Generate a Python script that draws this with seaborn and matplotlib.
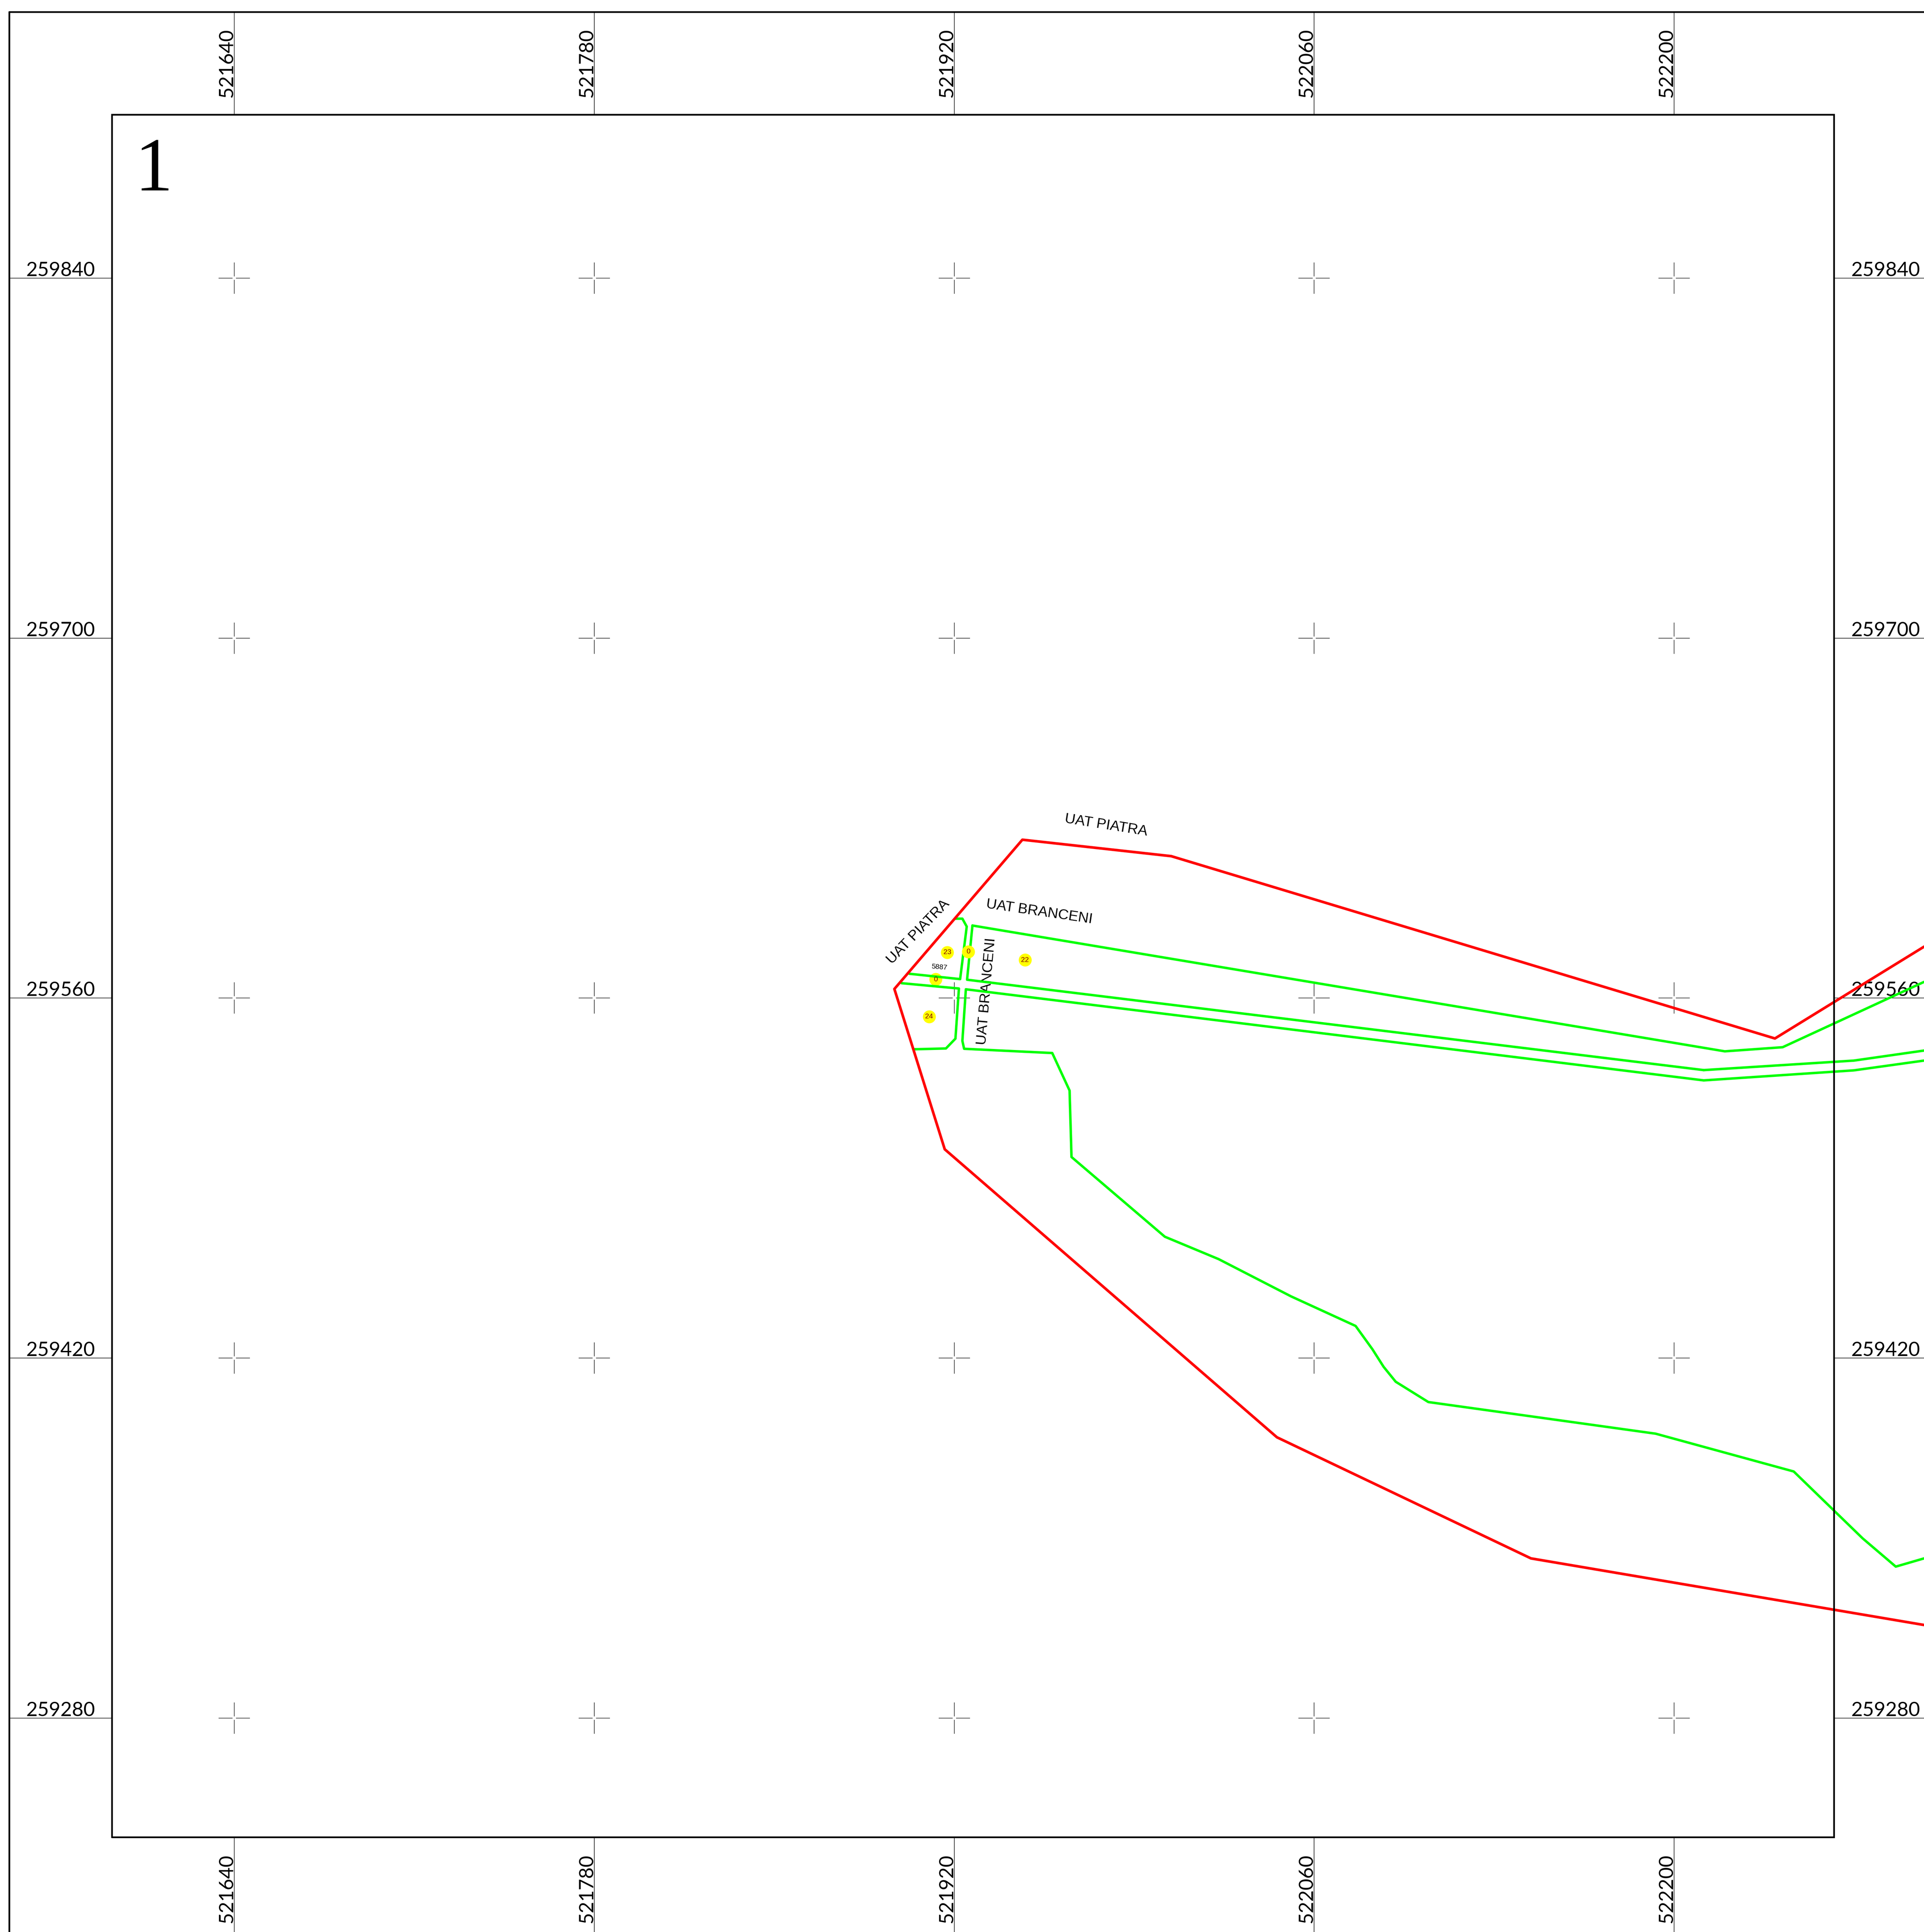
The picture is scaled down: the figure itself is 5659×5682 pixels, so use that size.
import matplotlib
matplotlib.use("Agg")
import matplotlib.pyplot as plt
import seaborn as sns

# grid coordinates
grid_x = [521640, 521780, 521920, 522060, 522200]
grid_y = [259840, 259700, 259560, 259420, 259280]

# frames
outer_left, outer_top = 521552.4, 259943.5
inner_left, inner_right = 521592.3, 522262.2
inner_bottom, inner_top = 259233.7, 259903.6
view_x = (521548.84, 522297.18)
view_y = (259196.8, 259948.17)

# red boundary
red_x = [522297.2, 522239.2, 522004.4, 521946.5, 521896.71, 521916.3, 522045.5, 522144.3, 522297.2]
red_y = [259580.0, 259544.3, 259615.2, 259621.6, 259563.55, 259501.2, 259389.2, 259342.1, 259316.2]

# green parcels
g1_x = [521920.46, 521923.16, 521924.85, 521922.28, 521902.58]
g1_y = [259590.89, 259590.89, 259587.82, 259567.39, 259569.46]
g2_x = [521899.54, 521921.81, 521920.46, 521916.75, 521904.6]
g2_y = [259565.80, 259563.73, 259544.24, 259540.41, 259540.11]
g3_x = [521927.07, 522219.7, 522242.2, 522297.2]
g3_y = [259588.23, 259539.3, 259540.9, 259566.3]
g4_x = [521927.07, 521924.98, 522211.5, 522269.9, 522297.2]
g4_y = [259588.23, 259567.15, 259532.0, 259535.7, 259539.6]
g5_x = [522297.2, 522269.9, 522211.5, 521924.51, 521923.16, 521923.83, 521958.11, 521964.85,
        521965.6, 522001.9, 522022.8, 522051.0, 522076.1, 522082.6, 522087.0, 522091.7,
        522104.4, 522192.8, 522246.5, 522273.3, 522286.2, 522297.2]
g5_y = [259535.7, 259531.9, 259528.0, 259563.43, 259543.36, 259540.29, 259538.64, 259524.05,
        259498.2, 259467.2, 259458.5, 259444.0, 259432.5, 259423.5, 259416.6, 259410.8,
        259402.9, 259390.6, 259375.9, 259349.9, 259338.9, 259342.1]

# yellow parcel markers
dot_x = [521917.3, 521925.5, 521947.5, 521910.2]
dot_y = [259577.8, 259578.1, 259574.8, 259552.8]
dot_t = ["23", "0", "22", "24"]
under_dot_x = [521912.8]
under_dot_y = [259567.3]
under_dot_t = ["0"]

# map labels
label_text = ["UAT PIATRA", "UAT PIATRA", "UAT BRANCENI", "UAT BRANCENI", "5887"]
label_x = [521979.0, 521905.9, 521953.1, 521932.6, 521914.2]
label_y = [259627.2, 259585.7, 259593.5, 259562.6, 259572.0]
label_rot = [-9, 46, -8.3, 85, -5]
label_size = [31, 31, 31, 31, 15]

sns.set_theme(style="white", rc={"axes.facecolor": "white", "figure.facecolor": "white"})
plt.rcParams["font.family"] = ["Liberation Sans", "DejaVu Sans"]

fig = plt.figure(figsize=(56.59, 56.82), dpi=100)
ax = fig.add_axes([0, 0, 1, 1])
ax.set_axis_off()

BLACK = "#000000"
FRAME_LW = 3.6
TICK_LW = 1.3
TICK_COL = "#222222"
CROSS_COL = "#222222"
ARM, GAP = 6.08, 0.65
TICK_FONT = dict(family="Lato", weight="normal", fontsize=42, color="black")

# outer and inner frame
ax.plot([outer_left, outer_left], [view_y[0], outer_top], color=BLACK, lw=FRAME_LW, zorder=5)
ax.plot([outer_left, view_x[1]], [outer_top, outer_top], color=BLACK, lw=FRAME_LW, zorder=5)
ax.plot([inner_left, inner_right, inner_right, inner_left, inner_left],
        [inner_bottom, inner_bottom, inner_top, inner_top, inner_bottom],
        color=BLACK, lw=FRAME_LW, zorder=5, solid_joinstyle="miter")

# tick lines and labels
ax.vlines(grid_x, inner_top, outer_top, color=TICK_COL, lw=TICK_LW, zorder=1)
ax.vlines(grid_x, view_y[0], inner_bottom, color=TICK_COL, lw=TICK_LW, zorder=1)
ax.hlines(grid_y, outer_left, inner_left, color=TICK_COL, lw=TICK_LW, zorder=1)
ax.hlines(grid_y, inner_right, view_x[1], color=TICK_COL, lw=TICK_LW, zorder=1)
for gx in grid_x:
    for yc in (259923.6, 259213.7):
        ax.text(gx - 0.7, yc, str(gx), rotation=90, rotation_mode="anchor",
                ha="center", va="baseline", **TICK_FONT)
for gy in grid_y:
    for xc in (521572.4, 522282.2):
        ax.text(xc, gy + 0.8, str(gy), ha="center", va="baseline", **TICK_FONT)

# grid crosses
for gx in grid_x:
    for gy in grid_y:
        ax.hlines(gy, gx - ARM, gx - GAP, color=CROSS_COL, lw=1.2, zorder=1)
        ax.hlines(gy, gx + GAP, gx + ARM, color=CROSS_COL, lw=1.2, zorder=1)
        ax.vlines(gx, gy - ARM, gy - GAP, color=CROSS_COL, lw=1.2, zorder=1)
        ax.vlines(gx, gy + GAP, gy + ARM, color=CROSS_COL, lw=1.2, zorder=1)

# text labels sit below the parcel lines
for t, x, y, r, s in zip(label_text, label_x, label_y, label_rot, label_size):
    ax.text(x, y, t, rotation=r, rotation_mode="anchor", ha="center", va="center",
            fontsize=s, color="black", family="Liberation Sans", zorder=2)

sns.scatterplot(x=under_dot_x, y=under_dot_y, s=750, color="#ffff00", linewidth=0, ax=ax, zorder=2.5, legend=False)
for gx, gy in [(g1_x, g1_y), (g2_x, g2_y), (g3_x, g3_y), (g4_x[:3], g4_y[:3]), (g5_x, g5_y)]:
    sns.lineplot(x=gx, y=gy, sort=False, estimator=None, color="#00ff00", linewidth=5.2, ax=ax, zorder=3, legend=False)
sns.lineplot(x=g4_x[2:], y=g4_y[2:], sort=False, estimator=None, color="#00ff00", linewidth=5.2, ax=ax, zorder=3, legend=False)
sns.lineplot(x=red_x, y=red_y, sort=False, estimator=None, color="#ff0000", linewidth=5.6, ax=ax, zorder=4, legend=False)
sns.scatterplot(x=dot_x, y=dot_y, s=750, color="#ffff00", linewidth=0, ax=ax, zorder=4.5, legend=False)
for x, y, t in zip(dot_x + under_dot_x, dot_y + under_dot_y, dot_t + under_dot_t):
    ax.text(x, y, t, ha="center", va="center", fontsize=15, color="#800000",
            family="Liberation Sans", zorder=6)

# sheet number
ax.text(521608.7, 259874.1, "1", ha="center", va="baseline", fontsize=161,
        family="Liberation Serif", color="black", zorder=6)

ax.set_xlim(*view_x)
ax.set_ylim(*view_y)
fig.savefig("out.png", dpi=100, facecolor="white")
